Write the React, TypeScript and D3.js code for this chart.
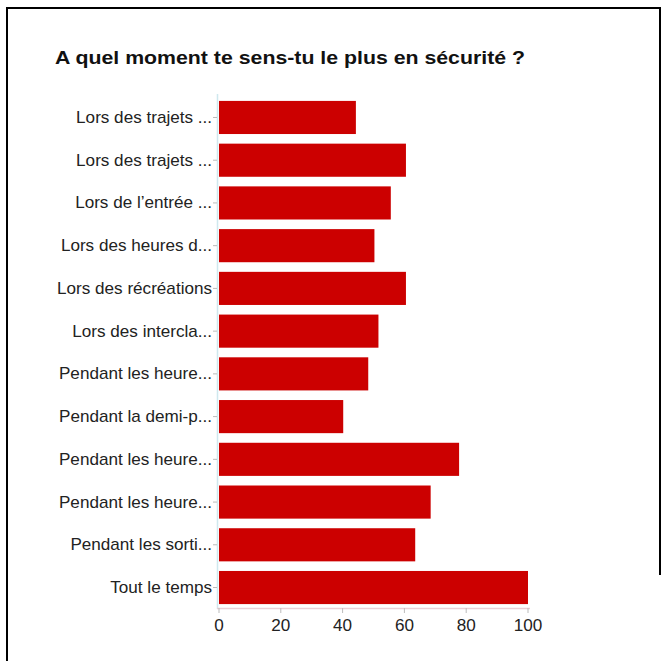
import React, { useEffect, useRef } from "react";
import * as d3 from "d3";

const title = "A quel moment te sens-tu le plus en sécurité ?";
const categories = [
  "Lors des trajets ...",
  "Lors des trajets ...",
  "Lors de l’entrée ...",
  "Lors des heures d...",
  "Lors des récréations",
  "Lors des intercla...",
  "Pendant les heure...",
  "Pendant la demi-p...",
  "Pendant les heure...",
  "Pendant les heure...",
  "Pendant les sorti...",
  "Tout le temps",
];
const values = [44.3, 60.5, 55.6, 50.3, 60.5, 51.6, 48.3, 40.2, 77.7, 68.5, 63.5, 100];
const xTicks = [0, 20, 40, 60, 80, 100];

const W = 666;
const H = 661;

export default function App() {
  const ref = useRef<SVGSVGElement>(null);
  useEffect(() => {
    const svg = d3.select(ref.current);
    svg.selectAll("*").remove();
    svg.append("rect").attr("width", W).attr("height", H).attr("fill", "#fff");

    // frame
    svg.append("path")
      .attr("d", `M7,${H} L7,8 L660,8 L660,575`)
      .attr("fill", "none")
      .attr("stroke", "#000")
      .attr("stroke-width", 2);

    svg.append("text")
      .attr("x", 55)
      .attr("y", 64)
      .attr("font-family", "Liberation Sans, Arial, sans-serif")
      .attr("font-weight", "bold")
      .attr("font-size", 17.5)
      .attr("fill", "#111")
      .attr("textLength", 470)
      .attr("lengthAdjust", "spacingAndGlyphs")
      .text(title);

    const x = d3.scaleLinear().domain([0, 100]).range([219, 528]);
    const idx = categories.map((_, i) => i);
    const y = d3.scaleBand<number>().domain(idx).range([96, 609]).paddingInner(0.225).paddingOuter(0.115);

    // axes lines
    svg.append("line").attr("x1", 217.5).attr("x2", 217.5).attr("y1", 94).attr("y2", 609)
      .attr("stroke", "#cfe8ee").attr("stroke-width", 1.5);
    svg.append("line").attr("x1", 217).attr("x2", 530).attr("y1", 608.5).attr("y2", 608.5)
      .attr("stroke", "#e8cfd6").attr("stroke-width", 1.5);

    svg.append("g").selectAll("rect").data(idx).join("rect")
      .attr("x", x(0))
      .attr("y", (i) => y(i)!)
      .attr("width", (i) => x(values[i]) - x(0))
      .attr("height", y.bandwidth())
      .attr("fill", "#cc0000");

    // y labels and ticks
    const gl = svg.append("g");
    idx.forEach((i) => {
      const cy = y(i)! + y.bandwidth() / 2;
      gl.append("line").attr("x1", 213).attr("x2", 217).attr("y1", cy).attr("y2", cy)
        .attr("stroke", "#bbb");
      gl.append("text")
        .attr("transform", `translate(212,${cy + 5.5}) scale(1.07,1)`)
        .attr("text-anchor", "end")
        .attr("font-family", "Liberation Sans, Arial, sans-serif")
        .attr("font-size", 16)
        .attr("fill", "#222")
        .text(categories[i]);
    });

    const gx = svg.append("g");
    xTicks.forEach((t) => {
      gx.append("line").attr("x1", x(t)).attr("x2", x(t)).attr("y1", 608).attr("y2", 613)
        .attr("stroke", "#bbb");
      gx.append("text")
        .attr("transform", `translate(${x(t)},631) scale(1.07,1)`)
        .attr("text-anchor", "middle")
        .attr("font-family", "Liberation Sans, Arial, sans-serif")
        .attr("font-size", 16)
        .attr("fill", "#222")
        .text(String(t));
    });
  }, []);
  return (
    <svg ref={ref} width={W} height={H} style={{ position: "absolute", left: 0, top: 0 }} />
  );
}
